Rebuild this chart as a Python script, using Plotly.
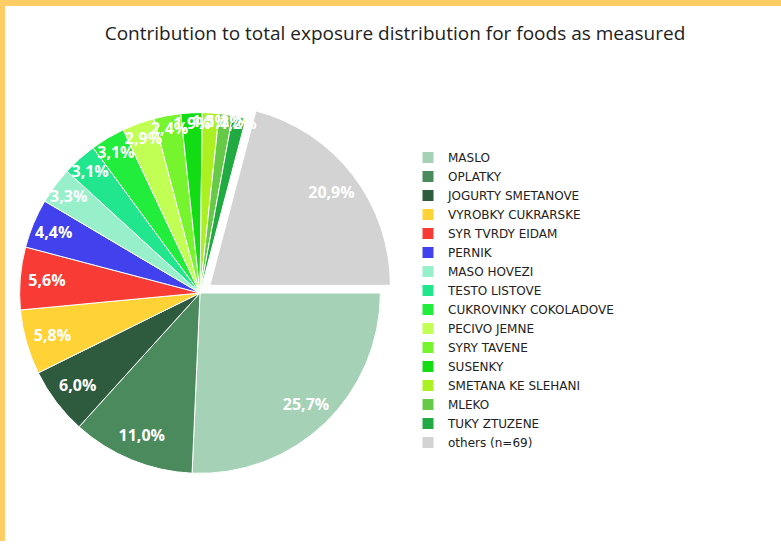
import plotly.graph_objects as go

categories = ["MASLO", "OPLATKY", "JOGURTY SMETANOVE", "VYROBKY CUKRARSKE", "SYR TVRDY EIDAM",
              "PERNIK", "MASO HOVEZI", "TESTO LISTOVE", "CUKROVINKY COKOLADOVE", "PECIVO JEMNE",
              "SYRY TAVENE", "SUSENKY", "SMETANA KE SLEHANI", "MLEKO", "TUKY ZTUZENE", "others (n=69)"]
values = [25.7, 11.0, 6.0, 5.8, 5.6, 4.4, 3.3, 3.1, 3.1, 2.9, 2.4, 1.9, 1.5, 1.2, 1.2, 20.9]
colors = ["#A5D1B6", "#4B8A5C", "#2E5A3D", "#FFD236", "#F93B35", "#4141EE", "#98F0CB", "#22E68D",
          "#22EC3C", "#C2FF55", "#76F42E", "#12DD14", "#ABF021", "#66C947", "#21A942", "#D3D3D3"]
pulls = [0, 0, 0, 0, 0, 0, 0, 0, 0, 0, 0, 0, 0, 0, 0, 0.07]

W, H = 781, 546
dom = dict(x=[7 / W, 393 / W], y=[60 / H, 446 / H])

fig = go.Figure()
# coloured slices
fig.add_trace(go.Pie(
    labels=categories, values=values, sort=False, direction="clockwise", rotation=90,
    pull=pulls, marker=dict(colors=colors, line=dict(color="white", width=1)),
    textinfo="none", hoverinfo="skip", domain=dom,
))
# transparent ring carrying the labels near the rim
fig.add_trace(go.Pie(
    labels=categories, values=values, sort=False, direction="clockwise", rotation=90,
    pull=pulls, hole=0.7, showlegend=False,
    marker=dict(colors=["rgba(0,0,0,0)"] * len(values), line=dict(width=0)),
    texttemplate="%{value:.1f}%", textposition="inside", insidetextorientation="horizontal",
    insidetextfont=dict(color="white", size=16, family="Open Sans", weight="bold"),
    hoverinfo="skip", domain=dom,
))

fig.update_layout(
    width=W, height=H,
    margin=dict(l=0, r=0, t=0, b=0),
    paper_bgcolor="white",
    plot_bgcolor="white",
    separators=", ",
    uniformtext=dict(minsize=16, mode="show"),
    title=dict(text="Contribution to total exposure distribution for foods as measured",
               x=395 / W, xanchor="center", y=1 - 33 / H, yanchor="middle",
               font=dict(size=19, color="#222222", family="Open Sans")),
    legend=dict(x=408 / W, xanchor="left", y=1 - 143 / H, yanchor="top",
                font=dict(size=12, color="#222222", family="DejaVu Sans"),
                tracegroupgap=0, itemwidth=30, bgcolor="rgba(0,0,0,0)"),
    shapes=[
        dict(type="rect", xref="paper", yref="paper", x0=0, x1=1, y0=1 - 6 / H, y1=1,
             fillcolor="#FFCC66", line=dict(width=0), layer="above"),
        dict(type="rect", xref="paper", yref="paper", x0=0, x1=5 / W, y0=5 / H, y1=1,
             fillcolor="#FFCC66", line=dict(width=0), layer="above"),
    ],
)

fig.write_html("out.html", config={"displayModeBar": False},
               post_script="document.body.style.margin='0px';document.body.style.overflow='hidden';")
